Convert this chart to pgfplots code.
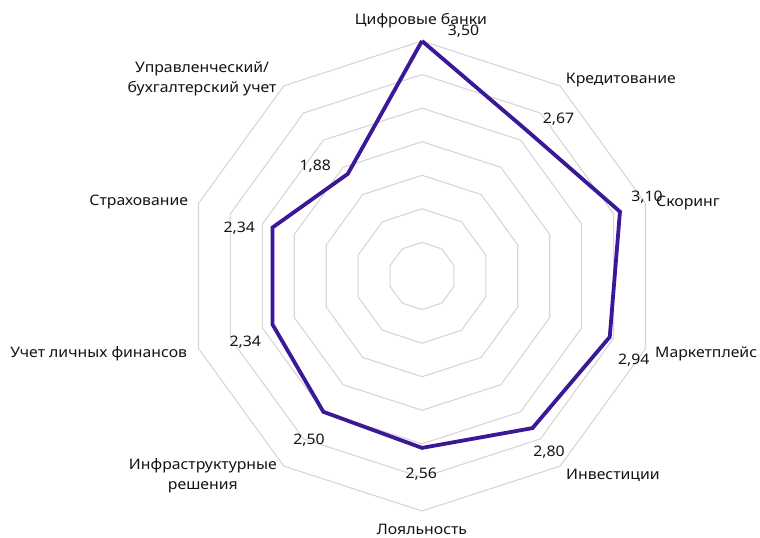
\documentclass[border=0pt]{standalone}
\usepackage{pgfplots}
\pgfplotsset{compat=1.18}
\usepackage{fontspec}
\setmainfont{Noto Sans}[FakeStretch=1.09]
\usetikzlibrary{calc}
\definecolor{gridc}{RGB}{214,214,214}
\definecolor{linec}{RGB}{58,24,152}
\definecolor{txt}{RGB}{20,20,20}
\tikzset{lab/.style={font=\fontsize{14.5bp}{20.5bp}\selectfont, text=txt, inner sep=0pt, align=center}}
\newcommand{\lbl}[4]{\node[lab, anchor=#3] at ([shift={(#1bp,#2bp)}]axis cs:0,0) {#4};}
\begin{document}
\begin{tikzpicture}
\begin{axis}[
  hide axis, clip=false,
  x=67.142857bp, y=67.142857bp,
  xmin=-3.6, xmax=3.6, ymin=-3.6, ymax=3.6,
]
\pgfplotsinvokeforeach{0.5,1.0,1.5,2.0,2.5,3.0,3.5}{
  \addplot[gridc, line width=1.1bp, data cs=polar, mark=none] coordinates {
    (90,#1) (54,#1) (18,#1) (-18,#1) (-54,#1) (-90,#1) (-126,#1) (-162,#1) (162,#1) (126,#1) (90,#1)};
}
% data: angle, value
\addplot[linec, line width=3.8bp, line join=miter, data cs=polar, mark=none] coordinates {
  (90,3.50)   % Цифровые банки
  (54,2.67)   % Кредитование
  (18,3.10)   % Скоринг
  (-18,2.94)  % Маркетплейс
  (-54,2.80)  % Инвестиции
  (-90,2.56)  % Лояльность
  (-126,2.50) % Инфраструктурные решения
  (-162,2.34) % Учет личных финансов
  (162,2.34)  % Страхование
  (126,1.88)  % Управленческий/бухгалтерский учет
  (90,3.50)
};
\coordinate (C) at (axis cs:0,0);
% category labels
\lbl{-1}{251}{base}{Цифровые банки}
\lbl{143.7}{192}{base west}{Кредитование}
\lbl{234}{69.3}{base west}{Скоринг}
\lbl{233}{-81.3}{base west}{Маркетплейс}
\lbl{144}{-204}{base west}{Инвестиции}
\lbl{0}{-258}{base}{Лояльность}
\lbl{-145}{-199.5}{east}{Инфраструктурные\\решения}
\lbl{-234.7}{-81.7}{base east}{Учет личных финансов}
\lbl{-233.7}{70}{base east}{Страхование}
\lbl{-145.3}{197}{east}{Управленческий/\\бухгалтерский учет}
% value labels
\lbl{41.5}{240}{base}{3,50}
\lbl{136.5}{152}{base}{2,67}
\lbl{225}{74.3}{base}{3,10}
\lbl{211.7}{-88.3}{base}{2,94}
\lbl{127}{-180.7}{base}{2,80}
\lbl{-0.7}{-202.3}{base}{2,56}
\lbl{-113}{-169}{base}{2,50}
\lbl{-176.7}{-70.7}{base}{2,34}
\lbl{-182.8}{43.3}{base}{2,34}
\lbl{-106.7}{105.3}{base}{1,88}
\end{axis}
\pgfresetboundingbox
\path[use as bounding box] ($(C)+(-422bp,-262bp)$) rectangle ($(C)+(338bp,276bp)$);
\end{tikzpicture}
\end{document}
